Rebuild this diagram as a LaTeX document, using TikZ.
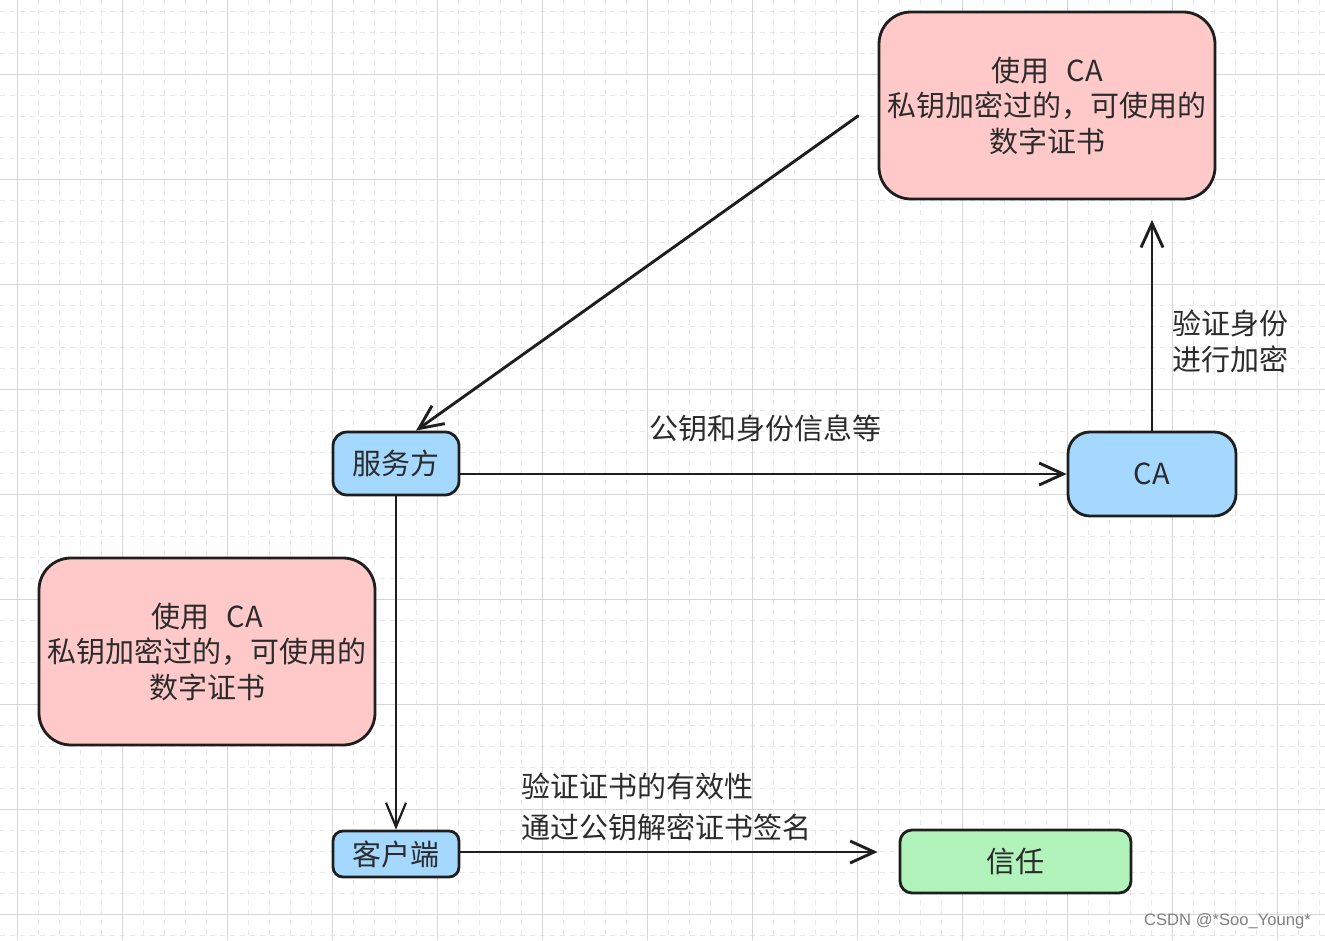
\documentclass[tikz,border=0pt]{standalone}
\usepackage{fontspec}
\setmainfont{Noto Sans CJK SC}
\newfontfamily\wmfont{Liberation Sans}
\usetikzlibrary{arrows.meta}
\definecolor{pinkfill}{HTML}{FFC9C9}
\definecolor{bluefill}{HTML}{A5D8FF}
\definecolor{greenfill}{HTML}{B2F2BB}
\definecolor{strokec}{HTML}{1E1E1E}
\definecolor{textc}{HTML}{2B2B2B}
\definecolor{majorgrid}{HTML}{D6D6D6}
\definecolor{minorgrid}{HTML}{E8E8E8}
\tikzset{
  box/.style={draw=strokec, line width=2.8pt, inner sep=0pt, align=center, text=textc,
              font=\fontsize{29}{35.5}\selectfont},
  pinkbox/.style={box, fill=pinkfill, rounded corners=32pt, minimum width=336pt, minimum height=187pt},
  bluebox/.style={box, fill=bluefill},
  greenbox/.style={box, fill=greenfill, rounded corners=12pt},
  lbl/.style={text=textc, inner sep=0pt, font=\fontsize{29}{35.5}\selectfont},
  conn/.style={draw=strokec, line width=2.9pt, line cap=round,
               -{Straight Barb[length=24pt,width=22pt,line width=2.9pt]}},
  connthin/.style={draw=strokec, line width=2.2pt, line cap=round,
               -{Straight Barb[length=24pt,width=20pt,line width=2.2pt]}},
}
\begin{document}
\begin{tikzpicture}[x=1pt,y=-1pt]
\useasboundingbox (0,0) rectangle (1325,940);
\fill[white] (0,0) rectangle (1325,940);
% minor grid
\foreach \i in {0,...,63} {
  \draw[minorgrid, line width=1pt, dash pattern=on 5pt off 5pt] ({-3.3+21*\i},0) -- ({-3.3+21*\i},940);
}
\foreach \j in {0,...,45} {
  \draw[minorgrid, line width=1pt, dash pattern=on 5pt off 5pt] (0,{11.3+21*\j}) -- (1325,{11.3+21*\j});
}
% major grid
\foreach \i in {0,...,12} {
  \draw[majorgrid, line width=1.2pt] ({17.7+105*\i},0) -- ({17.7+105*\i},940);
}
\foreach \j in {0,...,8} {
  \draw[majorgrid, line width=1.2pt] (0,{74.3+105*\j}) -- (1325,{74.3+105*\j});
}

% nodes
\node[pinkbox] (cert1) at (1047,105.5) {使用\ \ \,CA\hspace{0.45em}\\私钥加密过的，可使用的\\数字证书};
\node[pinkbox] (cert2) at (207,651.5) {使用\ \ \,CA\hspace{0.45em}\\私钥加密过的，可使用的\\数字证书};
\node[bluebox, rounded corners=14pt, minimum width=126pt, minimum height=63pt] (fw) at (396,463.5) {服务方};
\node[bluebox, rounded corners=22pt, minimum width=168pt, minimum height=84pt] (ca) at (1152,474) {CA};
\node[bluebox, rounded corners=10pt, minimum width=126pt, minimum height=46pt] (kh) at (396,854) {客户端};
\node[greenbox, minimum width=231pt, minimum height=63pt] (xr) at (1015.5,861.5) {信任};

% free ends
\coordinate (src1) at (858,116);
\coordinate (caup) at (1152,220);

% connectors
\draw[conn] (src1) -- ([xshift=20pt]fw.north);
\draw[conn] ([yshift=-10.5pt]fw.east) -- ([yshift=-10.5pt]fw.east -| ca.west);
\draw[conn] (ca.north) -- (caup);
\draw[connthin] (fw.south) -- (kh.north);
\draw[conn] ([yshift=2pt]kh.east) -- ([xshift=-21pt,yshift=2pt]kh.east -| xr.west);

% labels
\node[lbl] (l1) at (765,428) {公钥和身份信息等};
\node[lbl, anchor=west, align=left] (l2) at (1172,341.5) {验证身份\\进行加密};
\node[lbl, anchor=west, align=left, font=\fontsize{29}{41}\selectfont] (l3) at (521,806.5) {验证证书的有效性\\通过公钥解密证书签名};

% watermark
\node[anchor=east, inner sep=0pt, text=black!50, font=\wmfont\fontsize{16.6}{18}\selectfont] (wm) at (1311,921) {CSDN @*Soo\_Young*};
\end{tikzpicture}
\end{document}
